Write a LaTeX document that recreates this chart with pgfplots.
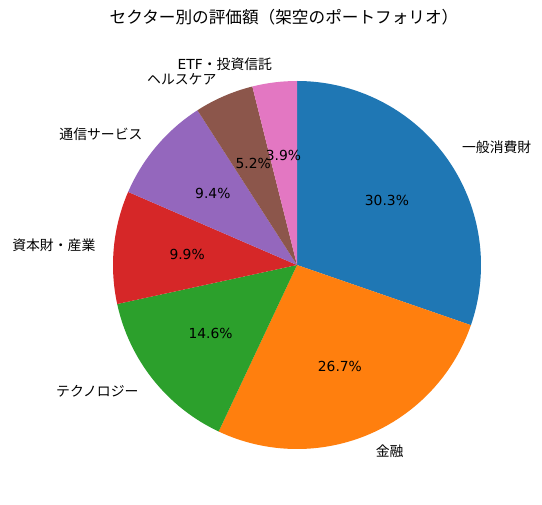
\documentclass[border=0pt]{standalone}
\usepackage{pgfplots}
\usepackage{pgfplotstable}
\pgfplotsset{compat=1.18}
\usepackage{fontspec}
\setmainfont{DejaVu Sans}
\newfontfamily\cjk{Noto Sans CJK JP}

% matplotlib tab10
\definecolor{slice0}{HTML}{1F77B4}
\definecolor{slice1}{HTML}{FF7F0E}
\definecolor{slice2}{HTML}{2CA02C}
\definecolor{slice3}{HTML}{D62728}
\definecolor{slice4}{HTML}{9467BD}
\definecolor{slice5}{HTML}{8C564B}
\definecolor{slice6}{HTML}{E377C2}

\def\labA{\cjk 一般消費財}
\def\labB{\cjk 金融}
\def\labC{\cjk テクノロジー}
\def\labD{\cjk 資本財・産業}
\def\labE{\cjk 通信サービス}
\def\labF{\cjk ヘルスケア}
\def\labG{ETF{\cjk ・投資信託}}

\pgfplotstableread{
value
30.3
26.7
14.6
9.9
9.4
5.2
3.9
}\piedata
\pgfplotstablecreatecol[create col/expr accum={\pgfmathaccuma + \thisrow{value}}{0}]{cum}\piedata

\begin{document}
\begin{tikzpicture}
\begin{axis}[
    hide axis,
    scale only axis,
    x=184bp, y=184bp,
    xmin=-1.6141, xmax=1.3315,
    ymin=-1.3043, ymax=1.4402,
    clip=false,
    font=\fontsize{13.9}{16}\selectfont,
]
\path (rel axis cs:0,0) rectangle (rel axis cs:1,1);
\pgfplotsinvokeforeach{0,...,6}{
  \pgfplotstablegetelem{#1}{value}\of\piedata \let\v\pgfplotsretval
  \pgfplotstablegetelem{#1}{cum}\of\piedata \let\c\pgfplotsretval
  \pgfmathsetmacro\aend{90-3.6*\c}
  \pgfmathsetmacro\astart{\aend+3.6*\v}
  \pgfmathsetmacro\amid{(\astart+\aend)/2}
  \pgfmathsetmacro\cx{cos(\astart)}
  \pgfmathsetmacro\cy{sin(\astart)}
  \pgfmathsetmacro\px{0.6*cos(\amid)}
  \pgfmathsetmacro\py{0.6*sin(\amid)}
  \pgfmathsetmacro\lx{1.1*cos(\amid)}
  \pgfmathsetmacro\ly{1.1*sin(\amid)}
  \pgfmathparse{cos(\amid)>0 ? 1 : 0}
  \ifnum\pgfmathresult=1 \def\anc{west}\else\def\anc{east}\fi
  \edef\temp{%
    \noexpand\fill[slice#1] (axis cs:0,0) -- (axis cs:\cx,\cy)
      arc[start angle=\astart, end angle=\aend, radius=184bp] -- cycle;
    \noexpand\node[inner sep=0pt] at (axis cs:\px,\py) {\noexpand\pgfmathprintnumber[fixed,precision=1,fixed zerofill,assume math mode=true]{\v}\noexpand\%};
    \noexpand\node[inner sep=0pt, anchor=\anc] at (axis cs:\lx,\ly)
      {\noexpand\csname lab\ifcase#1 A\or B\or C\or D\or E\or F\or G\fi\noexpand\endcsname};
  }
  \temp
}
\node[font=\fontsize{16.7}{20}\selectfont\cjk] at (axis cs:-0.0707,1.3446) {セクター別の評価額（架空のポートフォリオ）};
\end{axis}
\end{tikzpicture}
\end{document}
